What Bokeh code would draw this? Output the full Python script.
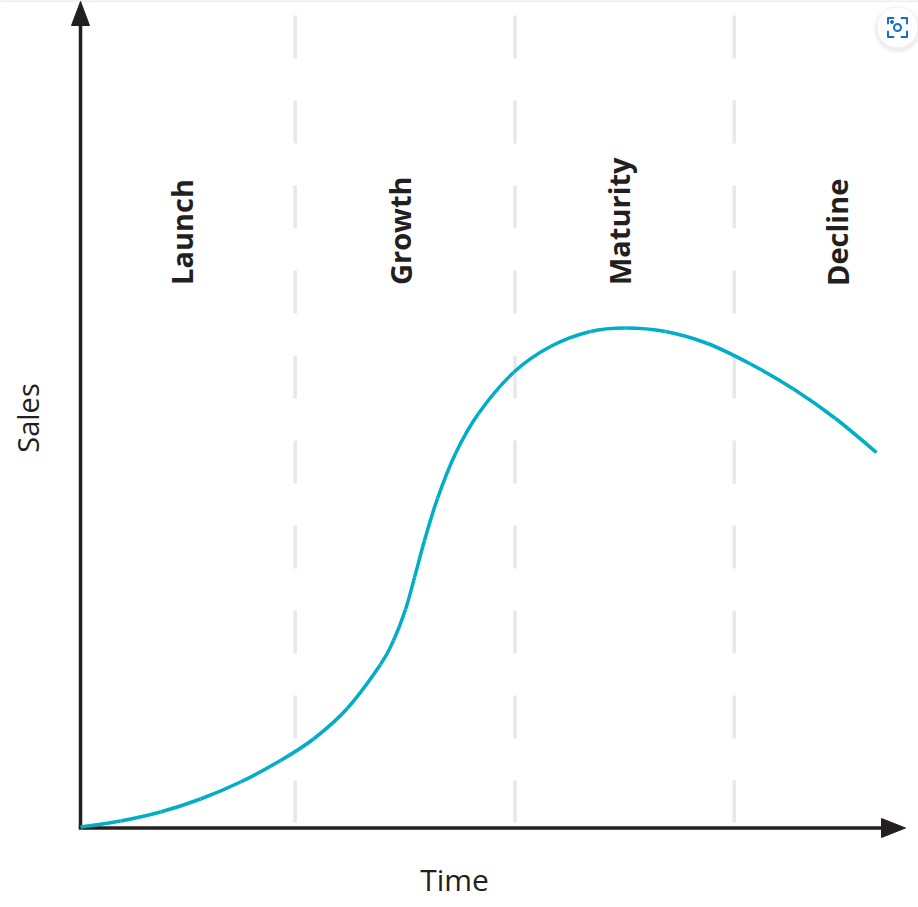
from bokeh.plotting import figure
from bokeh.models import Range1d, ColumnDataSource
from bokeh.core.properties import value
from bokeh.embed import file_html
from bokeh.resources import INLINE

time_vals = [0, 40, 80, 120, 160, 200, 233, 266.7, 300, 313, 325, 334, 344, 357, 375, 398, 433, 470, 510, 545, 585, 627, 670, 713, 755, 796]
sales_vals = [1, 7, 16, 29, 46, 67.5, 89, 119.5, 163.5, 187.5, 218.5, 250.5, 287.5, 329.5, 374.5, 414.5, 455.5, 481.5, 496.5, 500, 496.5, 484.5, 464, 439, 409.5, 375.5]
phase_names = ["Launch", "Growth", "Maturity", "Decline"]
phase_x = [101, 319.5, 538.5, 756.5]
phase_bottom = [543, 543, 543, 542]
boundaries = [214.7, 434.5, 653.7]
x_label, y_label = "Time", "Sales"

X0, Y0 = 80, 827.5
W, H = 918, 907

x_axis_end, y_axis_end = 825, 826.5
INK = "#231f20"; TEAL = "#00aec7"; DASH = "#e8e8e8"; BLUE = "#1a6fc4"

p = figure(width=W, height=H, output_backend="svg", toolbar_location=None,
           x_range=Range1d(-X0, W - X0), y_range=Range1d(Y0 - H, Y0),
           min_border=0, outline_line_color=None, background_fill_color="white")
p.axis.visible = False
p.grid.visible = False

# top hairline of the page
p.line([-X0, W - X0], [Y0 - 0.5, Y0 - 0.5], line_color="#e6e6e6", line_width=1.5)

# phase boundaries
for b in boundaries:
    p.line([b, b], [812.5, 5.5], line_color=DASH, line_width=3.5, line_dash="43 42")

# axes + arrow heads
p.line([0, 0], [0, y_axis_end - 24], line_color=INK, line_width=3.5)
p.line([0, x_axis_end - 24], [0, 0], line_color=INK, line_width=3.5, line_cap="square")
p.patch([-9, 9, 0], [y_axis_end - 24, y_axis_end - 24, y_axis_end], color=INK)
p.patch([x_axis_end - 24, x_axis_end - 24, x_axis_end], [-9.5, 9.5, 0], color=INK)

# curve: cubic segments through the read points
n = len(time_vals)
def tan(v, i):
    a, b = v[max(i - 1, 0)], v[min(i + 1, n - 1)]
    return (b - a) / 6
idx = range(n - 1)
p.bezier(x0=[time_vals[i] for i in idx], y0=[sales_vals[i] for i in idx],
         x1=[time_vals[i + 1] for i in idx], y1=[sales_vals[i + 1] for i in idx],
         cx0=[time_vals[i] + tan(time_vals, i) for i in idx],
         cy0=[sales_vals[i] + tan(sales_vals, i) for i in idx],
         cx1=[time_vals[i + 1] - tan(time_vals, i + 1) for i in idx],
         cy1=[sales_vals[i + 1] - tan(sales_vals, i + 1) for i in idx],
         line_color=TEAL, line_width=3.5)

# labels
src = ColumnDataSource(dict(x=phase_x, y=phase_bottom, t=phase_names))
p.text("x", "y", text="t", source=src, angle=1.5708, text_font=value("Open Sans"),
       text_font_style="bold", text_font_size="29px", text_color=INK,
       text_align="left", text_baseline="middle")
p.text([-53], [410], text=[y_label], angle=1.5708, text_font=value("Open Sans"),
       text_font_size="29px", text_color=INK, text_align="center", text_baseline="middle")
p.text([374], [-51], text=[x_label], text_font=value("Open Sans"),
       text_font_size="30px", text_color=INK, text_align="center", text_baseline="middle")

# lens badge, top right
cx, cy = 897 - 80, 827.5 - 27
for r, a in [(50, .015), (47, .02), (44, .03)]:
    p.scatter([cx], [cy - 2], size=r, color="#000000", alpha=a, line_color=None)
p.scatter([cx], [cy], size=40, color="white", line_color=None)
s, c = 9.5, 4
p.multi_line([[cx - s, cx - s, cx - c], [cx + c, cx + s, cx + s],
              [cx - s, cx - s, cx - c], [cx + c, cx + s, cx + s]],
             [[cy + c, cy + s, cy + s], [cy + s, cy + s, cy + c],
              [cy - c, cy - s, cy - s], [cy - s, cy - s, cy - c]],
             line_color=BLUE, line_width=2, line_join="round", line_cap="round")
p.scatter([cx], [cy], size=7, fill_color="white", line_color=BLUE, line_width=2)
p.scatter([cx - 5.5], [cy + 5.5], size=3, color=BLUE)

open("out.html", "w").write(file_html(p, INLINE))
